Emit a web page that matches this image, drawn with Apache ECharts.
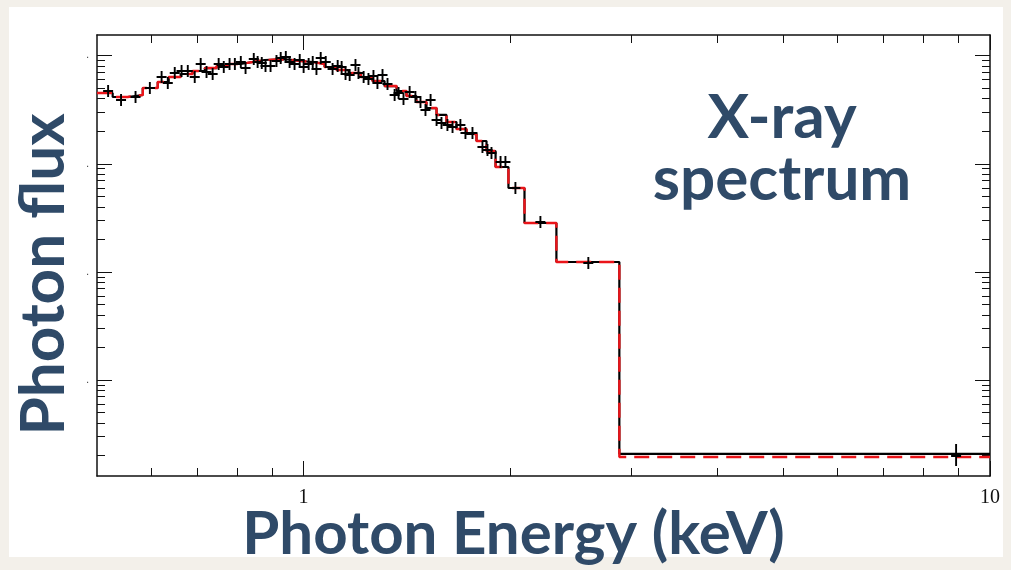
<!DOCTYPE html>
<html>
<head>
<meta charset="utf-8">
<script src="https://cdn.jsdelivr.net/npm/echarts@6/dist/echarts.min.js"></script>
<style>
html, body { margin: 0; padding: 0; background: #f3f0ea; }
#panel { position: absolute; left: 9px; top: 7px; width: 994px; height: 550px; background: #fff; }
#chart { position: absolute; left: 0; top: 0; width: 1011px; height: 570px; }
</style>
</head>
<body>
<div id="panel"></div>
<div id="chart"></div>
<script>
// measured spectrum (keV, photon flux)
var dataEnergy = [0.519,0.542,0.569,0.597,0.621,0.634,0.649,0.664,0.678,0.694,
    0.708,0.722,0.737,0.752,0.765,0.780,0.794,0.810,0.823,0.846,
    0.857,0.869,0.880,0.895,0.913,0.926,0.942,0.954,0.970,0.987,
    1.000,1.017,1.031,1.044,1.059,1.077,1.102,1.121,1.136,1.151,
    1.167,1.190,1.202,1.223,1.243,1.264,1.281,1.303,1.325,1.357,
    1.375,1.398,1.427,1.455,1.480,1.505,1.531,1.562,1.588,1.620,
    1.648,1.692,1.721,1.762,1.822,1.853,1.878,1.936,1.968,2.035,
    2.213,2.599,8.925];
var dataFlux = [0.471,0.389,0.415,0.503,0.635,0.559,0.692,0.722,0.722,0.635,
    0.838,0.707,0.677,0.838,0.786,0.838,0.838,0.874,0.769,0.932,
    0.874,0.856,0.803,0.803,0.893,0.952,0.973,0.874,0.838,0.912,
    0.786,0.838,0.874,0.753,0.952,0.874,0.753,0.803,0.786,0.677,
    0.663,0.820,0.692,0.635,0.609,0.649,0.559,0.663,0.547,0.433,
    0.452,0.398,0.462,0.415,0.373,0.315,0.389,0.254,0.2385,0.2285,
    0.219,0.2285,0.1927,0.1927,0.143,0.1342,0.1259,0.1039,0.1039,0.0597,
    0.02894,0.01209,0.000202];

// model (bin edges and level per bin)
var modelEdges = [0.5,0.527,0.554,0.583,0.613,0.636,0.662,0.689,0.718,0.747,
    0.778,0.810,0.843,0.877,0.913,0.951,0.990,1.031,1.073,1.117,
    1.163,1.211,1.260,1.312,1.366,1.412,1.460,1.510,1.562,1.615,
    1.670,1.727,1.786,1.847,1.904,1.988,2.098,2.335,2.884,10];
var modelFlux = [0.452,0.415,0.433,0.5025,0.571,0.635,0.677,0.722,0.769,0.803,
    0.838,0.874,0.912,0.922,0.922,0.893,0.874,0.838,0.786,0.737,
    0.692,0.635,0.583,0.524,0.471,0.424,0.373,0.328,0.283,0.2436,
    0.2098,0.1886,0.1625,0.1313,0.0934,0.0597,0.02834,0.01235,0.000207];
var modelFluxRed = modelFlux.slice(0, -1).concat([0.000194]);

// axis ticks
var xMajor = [1, 10];
var xMinor = [0.6, 0.7, 0.8, 0.9, 2, 3, 4, 5, 6, 7, 8, 9];
var yMajor = [0.001, 0.01, 0.1, 1];
var yMinor = [0.0002,0.0003,0.0004,0.0005,0.0006,0.0007,0.0008,0.0009,
    0.002,0.003,0.004,0.005,0.006,0.007,0.008,0.009,
    0.02,0.03,0.04,0.05,0.06,0.07,0.08,0.09,
    0.2,0.3,0.4,0.5,0.6,0.7,0.8,0.9];

var xMin = 0.5, xMax = 10;
var yMin = 1.294e-4, yMax = 1.554;

var titleColor = '#2f4a68';
var titleFont = 'Lato';

function steps(edges, levels) {
    var out = [];
    for (var i = 0; i < levels.length; i++) {
        out.push([edges[i], levels[i]]);
    }
    out.push([edges[edges.length - 1], levels[levels.length - 1]]);
    return out;
}

var points = [];
for (var k = 0; k < dataEnergy.length; k++) {
    points.push([dataEnergy[k], dataFlux[k]]);
}

function frameAxis(pos, min, max, ticks, len, withLine) {
    return {
        type: 'log',
        position: pos,
        min: min,
        max: max,
        axisLine: { show: withLine, onZero: false, lineStyle: { color: '#111', width: 1.5 } },
        axisTick: { show: true, inside: true, length: len, customValues: ticks,
            lineStyle: { color: '#111', width: 1 } },
        axisLabel: { show: false },
        splitLine: { show: false },
        minorTick: { show: false }
    };
}

var xBottom = frameAxis('bottom', xMin, xMax, xMajor, 15, true);
xBottom.axisLabel = {
    show: true, customValues: xMajor, margin: 12,
    fontFamily: 'Liberation Serif', fontSize: 20, color: '#111',
    formatter: '{value}'
};
xBottom.name = 'Photon Energy (keV)';
xBottom.nameLocation = 'middle';
xBottom.nameGap = 29;
xBottom.nameMoveOverlap = false;
xBottom.nameTextStyle = {
    fontFamily: titleFont, fontWeight: 'bold', fontSize: 60, color: titleColor,
    padding: [0, 60, 0, 0]
};

var yLeft = frameAxis('left', yMin, yMax, yMajor, 15, true);
yLeft.axisLabel = {
    show: true, customValues: yMajor, margin: 8,
    fontSize: 10, color: '#333',
    formatter: function () { return '.'; }
};
yLeft.name = 'Photon flux';
yLeft.nameLocation = 'middle';
yLeft.nameGap = 22;
yLeft.nameTextStyle = {
    fontFamily: titleFont, fontWeight: 'bold', fontSize: 62, color: titleColor,
    padding: [0, 38, 0, 0]
};

var labelStyle = {
    fontFamily: titleFont, fontWeight: 'bold', fontSize: 62, color: titleColor
};

var chart = echarts.init(document.getElementById('chart'), null, { renderer: 'canvas' });
var option = {
    animation: false,
    backgroundColor: 'transparent',
    title: [
        { text: 'X-ray', left: 777, top: 82, textAlign: 'center', textStyle: labelStyle },
        { text: 'spectrum', left: 777, top: 144, textAlign: 'center', textStyle: labelStyle }
    ],
    grid: {
        left: 97,
        right: 21,
        top: 35,
        bottom: 94,
        containLabel: false,
        outerBoundsMode: 'none'
    },
    xAxis: [
        xBottom,
        frameAxis('top', xMin, xMax, xMajor, 15, true),
        frameAxis('bottom', xMin, xMax, xMinor, 8, false),
        frameAxis('top', xMin, xMax, xMinor, 8, false)
    ],
    yAxis: [
        yLeft,
        frameAxis('right', yMin, yMax, yMajor, 15, true),
        frameAxis('left', yMin, yMax, yMinor, 8, false),
        frameAxis('right', yMin, yMax, yMinor, 8, false)
    ],
    series: [
        {
            name: 'folded model',
            type: 'line',
            step: 'end',
            showSymbol: false,
            data: steps(modelEdges, modelFlux),
            lineStyle: { color: '#000', width: 2.2 },
            z: 2
        },
        {
            name: 'model',
            type: 'line',
            step: 'end',
            showSymbol: false,
            data: steps(modelEdges, modelFluxRed),
            lineStyle: { color: '#ea1419', width: 2.4, type: [15, 8] },
            z: 3
        },
        {
            name: 'data',
            type: 'scatter',
            data: points,
            symbol: 'path://M4.05,0H5.95V4.15H10V5.85H5.95V10H4.05V5.85H0V4.15H4.05Z',
            symbolSize: function (val, p) {
                return p.dataIndex === dataEnergy.length - 1 ? [10, 22] : [10, 12];
            },
            itemStyle: { color: '#000', opacity: 1 },
            z: 4
        }
    ]
};
chart.setOption(option);
</script>
</body>
</html>
